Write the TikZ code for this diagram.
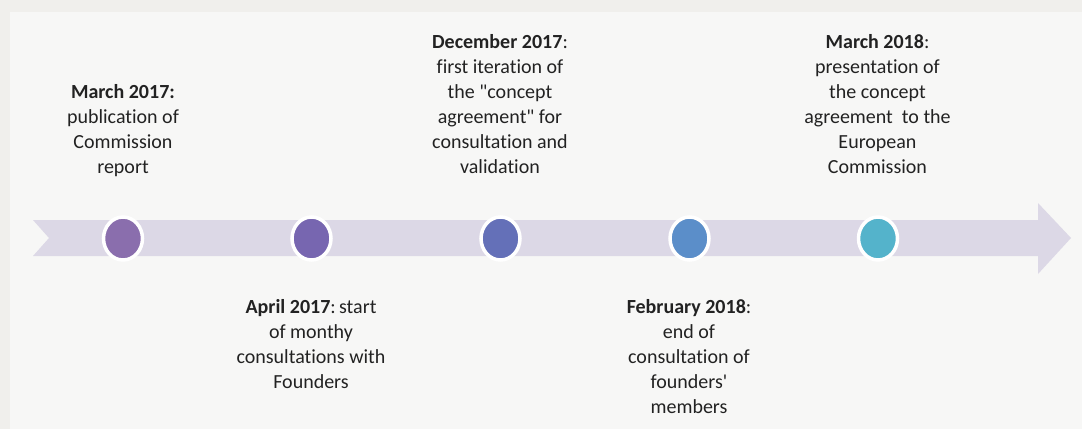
\documentclass[tikz,border=0pt]{standalone}
\usepackage{fontspec}
\setmainfont{Carlito}[Ligatures={TeXOff,CommonOff}]
\usetikzlibrary{shapes.geometric}
\definecolor{outerbg}{HTML}{F0EFEC}
\definecolor{panelbg}{HTML}{F7F7F6}
\definecolor{arrowc}{HTML}{DCD8E6}
\definecolor{cA}{HTML}{8A6EAD}
\definecolor{cB}{HTML}{7766B0}
\definecolor{cC}{HTML}{6470B8}
\definecolor{cD}{HTML}{5B8EC9}
\definecolor{cE}{HTML}{54B3CB}
\definecolor{txt}{HTML}{222222}
\tikzset{
  dot/.style={ellipse, minimum width=39pt, minimum height=43pt, inner sep=0pt, draw=white, line width=3.5pt},
  lbl/.style={inner sep=0pt, text=txt, font=\fontsize{20}{25}\selectfont, anchor=base}
}
\newcommand{\toplbl}[1]{\begin{tabular}[b]{@{}c@{}}#1\end{tabular}}
\newcommand{\botlbl}[1]{\begin{tabular}[t]{@{}c@{}}#1\end{tabular}}
\begin{document}
\begin{tikzpicture}[x=1pt,y=-1pt]
\useasboundingbox (0,0) rectangle (1082,429);
\fill[outerbg] (0,0) rectangle (1082,429);
\fill[panelbg] (10,12) rectangle (1082,429);
% timeline arrow
\fill[arrowc] (33,220) -- (1038,220) -- (1038,203) -- (1071,238) -- (1038,274) -- (1038,256) -- (33,256) -- (49,238) -- cycle;
% milestones
\node[dot, fill=cA] (m1) at (123,238.5) {};
\node[dot, fill=cB] (m2) at (311.5,238.5) {};
\node[dot, fill=cC] (m3) at (500.5,238.5) {};
\node[dot, fill=cD] (m4) at (689.5,238.5) {};
\node[dot, fill=cE] (m5) at (878,238.5) {};
% labels
\node[lbl] (t1) at (123,173.5) {\toplbl{\textbf{March 2017:}\\ publication of\\ Commission\\ report}};
\node[lbl] (t3) at (500,173.5) {\toplbl{\textbf{December 2017}:\\ first iteration of\\ the "concept\\ agreement" for\\ consultation and\\ validation}};
\node[lbl] (t5) at (877.5,173.5) {\toplbl{\textbf{March 2018}:\\ presentation of\\ the concept\\ agreement\ \ to the\\ European\\ Commission}};
\node[lbl] (t2) at (311,313) {\botlbl{\textbf{April 2017}:\,start\\ of monthy\\ consultations with\\ Founders}};
\node[lbl] (t4) at (689,313) {\botlbl{\textbf{February 2018}:\\ end of\\ consultation of\\ founders'\\ members}};
\end{tikzpicture}
\end{document}
